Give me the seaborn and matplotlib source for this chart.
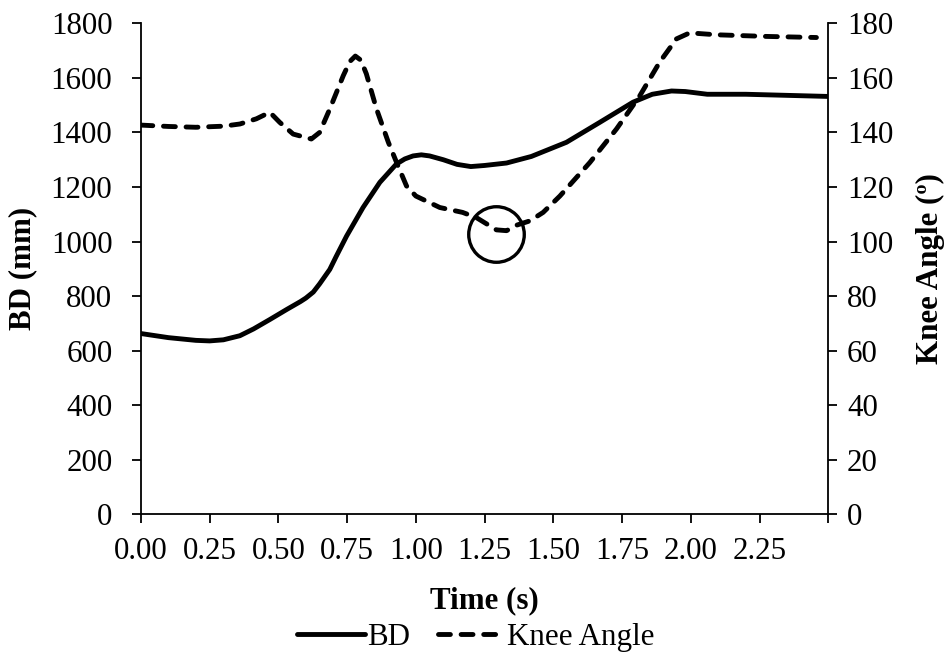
"""
BD displacement and knee angle over time, dual y-axis chart.
Output: out.png
"""
import numpy as np
import pandas as pd
import matplotlib
matplotlib.use("Agg")
import matplotlib.pyplot as plt
from matplotlib.lines import Line2D
import seaborn as sns

# BD (mm) trace
bd_time = [0.00, 0.10, 0.20, 0.25, 0.30, 0.36, 0.41, 0.47, 0.53, 0.58, 0.60,
           0.627, 0.65, 0.687, 0.71, 0.748, 0.808, 0.869, 0.929, 0.96, 0.99,
           1.02, 1.05, 1.10, 1.15, 1.20, 1.25, 1.33, 1.42, 1.548, 1.669,
           1.79, 1.86, 1.93, 1.98, 2.06, 2.20, 2.35, 2.50]
bd_mm = [663, 648, 638, 636, 640, 655, 680, 715, 751, 780, 793,
         815, 845, 898, 945, 1020, 1125, 1217, 1284, 1303, 1314,
         1318, 1314, 1300, 1283, 1275, 1279, 1288, 1312, 1364, 1437,
         1511, 1540, 1552, 1550, 1540, 1540, 1536, 1532]

# Knee angle (deg) trace
knee_time = [0.00, 0.10, 0.20, 0.30, 0.36, 0.42, 0.469, 0.505, 0.554, 0.62,
             0.65, 0.687, 0.736, 0.76, 0.78, 0.80, 0.82, 0.857, 0.90, 0.93,
             0.966, 1.00, 1.087, 1.17, 1.22, 1.293, 1.33, 1.366, 1.415, 1.463,
             1.524, 1.633, 1.73, 1.815, 1.887, 1.948, 1.996, 2.093, 2.275, 2.457]
knee_deg = [142.7, 142.2, 141.9, 142.3, 143.1, 145.0, 147.4, 143.7, 139.4, 137.6,
            140.0, 148.6, 160.8, 166.0, 168.0, 166.5, 161.5, 148.6, 136.4, 129.0,
            120.4, 116.7, 112.5, 110.7, 108.8, 104.3, 104.0, 106.0, 107.6, 110.7,
            116.7, 129.0, 141.3, 153.5, 165.8, 174.3, 176.5, 175.8, 175.2, 174.8]

# highlighted minimum knee angle
mark_time = [1.293]
mark_deg = [102.9]

x_ticks = [0.00, 0.25, 0.50, 0.75, 1.00, 1.25, 1.50, 1.75, 2.00, 2.25, 2.50]
x_labels = ["0.00", "0.25", "0.50", "0.75", "1.00", "1.25", "1.50", "1.75",
            "2.00", "2.25", ""]

sns.set_theme(style="ticks")
plt.rcParams["font.family"] = ["Liberation Serif", "DejaVu Serif"]
plt.rcParams.update({"text.color": "black", "axes.labelcolor": "black",
                     "xtick.color": "black", "ytick.color": "black"})
FS = 22.3
LW = 3.5
KNEE_DASH = [2.45, 2.2]

bd = pd.DataFrame({"t": bd_time, "v": bd_mm})
knee = pd.DataFrame({"t": knee_time, "v": knee_deg})

fig = plt.figure(figsize=(9.52, 6.57), dpi=100)
ax = fig.add_axes([0.148, 0.217, 0.722, 0.7475])
ax2 = ax.twinx()

sns.lineplot(data=bd, x="t", y="v", ax=ax, color="black", lw=LW,
             sort=False, estimator=None, legend=False)
sns.lineplot(data=knee, x="t", y="v", ax=ax2, color="black", lw=LW,
             sort=False, estimator=None, legend=False)
kl = ax2.lines[-1]
kl.set_dashes(KNEE_DASH)
kl.set_dash_capstyle("round")
ax2.plot(mark_time, mark_deg, "o", ms=40, mfc="none", mec="black", mew=2.4)

ax.set_xlim(0, 2.5)
ax.set_ylim(0, 1800)
ax2.set_ylim(0, 180)
ax.set_xticks(x_ticks)
ax.set_xticklabels(x_labels)
ax.set_yticks(np.arange(0, 1801, 200))
ax2.set_yticks(np.arange(0, 181, 20))

for a in (ax, ax2):
    a.spines["top"].set_visible(False)
    for s in a.spines.values():
        s.set_linewidth(1.3)
        s.set_color("black")
    a.tick_params(labelsize=FS, length=6.5, width=1.3, color="black",
                  labelcolor="black")
ax.spines["right"].set_visible(False)
ax2.spines["left"].set_visible(False)
ax2.spines["bottom"].set_visible(False)
ax.tick_params(axis="x", pad=10)
ax.tick_params(axis="y", pad=14)
ax2.tick_params(axis="y", pad=7)

ax.set_xlabel("Time (s)", fontsize=FS, fontweight="bold", labelpad=14)
ax.set_ylabel("BD (mm)", fontsize=FS, fontweight="bold", labelpad=10)
ax2.set_ylabel("Knee Angle (º)", fontsize=FS, fontweight="bold", labelpad=16)
ax.grid(False)
ax2.grid(False)

# legend proxies: solid, and three round-capped dashes
h_bd = Line2D([], [], color="black", lw=LW)
h_knee = Line2D([], [], color="black", lw=LW, dash_capstyle="round",
                dashes=KNEE_DASH * 2 + [KNEE_DASH[0], 8])
fig.legend([h_bd, h_knee], ["BD", "Knee Angle"], loc="center",
           bbox_to_anchor=(0.5, 0.03), ncol=2, frameon=False, fontsize=FS,
           handlelength=2.2, handletextpad=0.05, columnspacing=0.9)

fig.savefig("out.png", dpi=100)
